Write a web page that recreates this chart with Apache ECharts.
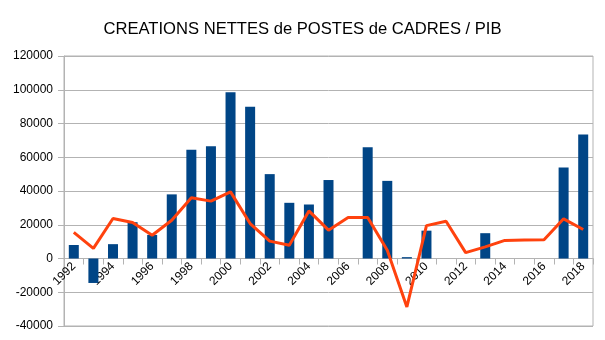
<!DOCTYPE html>
<html>
<head>
<meta charset="utf-8">
<script src="https://cdn.jsdelivr.net/npm/echarts@6/dist/echarts.min.js"></script>
<style>
  html, body { margin: 0; padding: 0; background: #fff; }
  #chart { width: 605px; height: 340px; }
</style>
</head>
<body>
<div id="chart"></div>
<script>
// Years on the category axis
const years = ['1992','1993','1994','1995','1996','1997','1998','1999','2000','2001',
  '2002','2003','2004','2005','2006','2007','2008','2009','2010','2011',
  '2012','2013','2014','2015','2016','2017','2018'];

// Net creation of executive positions (bars)
const postesCadres = [8000, -14500, 8500, 21500, 14000, 38000, 64500, 66500, 98500, 90000,
  50000, 33000, 32000, 46500, 0, 66000, 46000, 800, 16500, 0,
  0, 15000, 0, 0, 0, 54000, 73500];

// GDP series (line)
const pib = [15500, 6000, 23700, 21300, 13800, 22700, 36000, 34000, 39500, 20700,
  10300, 7900, 28200, 16800, 24300, 24300, 4900, -28700, 19500, 22100,
  3500, 6900, 10700, 10900, 11100, 23500, 17200];

// Value axis range
const yMin = -40000, yMax = 120000, yStep = 20000;

const gridTop = 56, gridBottom = 14, chartHeight = 340;

const chart = echarts.init(document.getElementById('chart'));

// Place the category axis (line, ticks, labels) on the zero line
const plotH = chartHeight - gridTop - gridBottom;
const zeroOffset = -plotH * (0 - yMin) / (yMax - yMin);

chart.setOption({
  animation: false,
  title: {
    text: 'CREATIONS NETTES de POSTES de CADRES / PIB',
    left: 'center',
    top: 16,
    textStyle: { fontFamily: 'Liberation Sans', fontSize: 16.6, fontWeight: 'normal', color: '#000' }
  },
  grid: {
    left: 64, right: 12, top: gridTop, bottom: gridBottom,
    outerBoundsMode: 'none',
    containLabel: false,
    show: true, borderColor: '#b3b3b3', borderWidth: 1
  },
  xAxis: {
    type: 'category',
    data: years,
    boundaryGap: true,
    position: 'bottom',
    offset: zeroOffset,
    axisLine: { onZero: false, lineStyle: { color: '#b3b3b3' } },
    axisTick: { show: true, length: 6, interval: 0, lineStyle: { color: '#b3b3b3' } },
    axisLabel: {
      interval: 1, rotate: 45, margin: 6,
      fontFamily: 'Liberation Sans', fontSize: 12, color: '#000'
    },
    splitLine: { show: false }
  },
  yAxis: {
    type: 'value',
    min: yMin, max: yMax, interval: yStep,
    axisLine: { show: true, lineStyle: { color: '#b3b3b3' } },
    axisTick: { show: true, length: 6, lineStyle: { color: '#b3b3b3' } },
    axisLabel: {
      fontFamily: 'Liberation Sans', fontSize: 12, color: '#000', margin: 11,
      formatter: v => String(v)
    },
    splitLine: { lineStyle: { color: '#b3b3b3', width: 1 } }
  },
  series: [
    {
      name: 'Postes de cadres',
      type: 'bar',
      data: postesCadres,
      barWidth: 10,
      itemStyle: { color: '#004586' },
      z: 2
    },
    {
      name: 'PIB',
      type: 'line',
      data: pib,
      showSymbol: false,
      symbol: 'none',
      lineStyle: { color: '#ff420e', width: 3 },
      z: 3
    }
  ]
});
</script>
</body>
</html>
